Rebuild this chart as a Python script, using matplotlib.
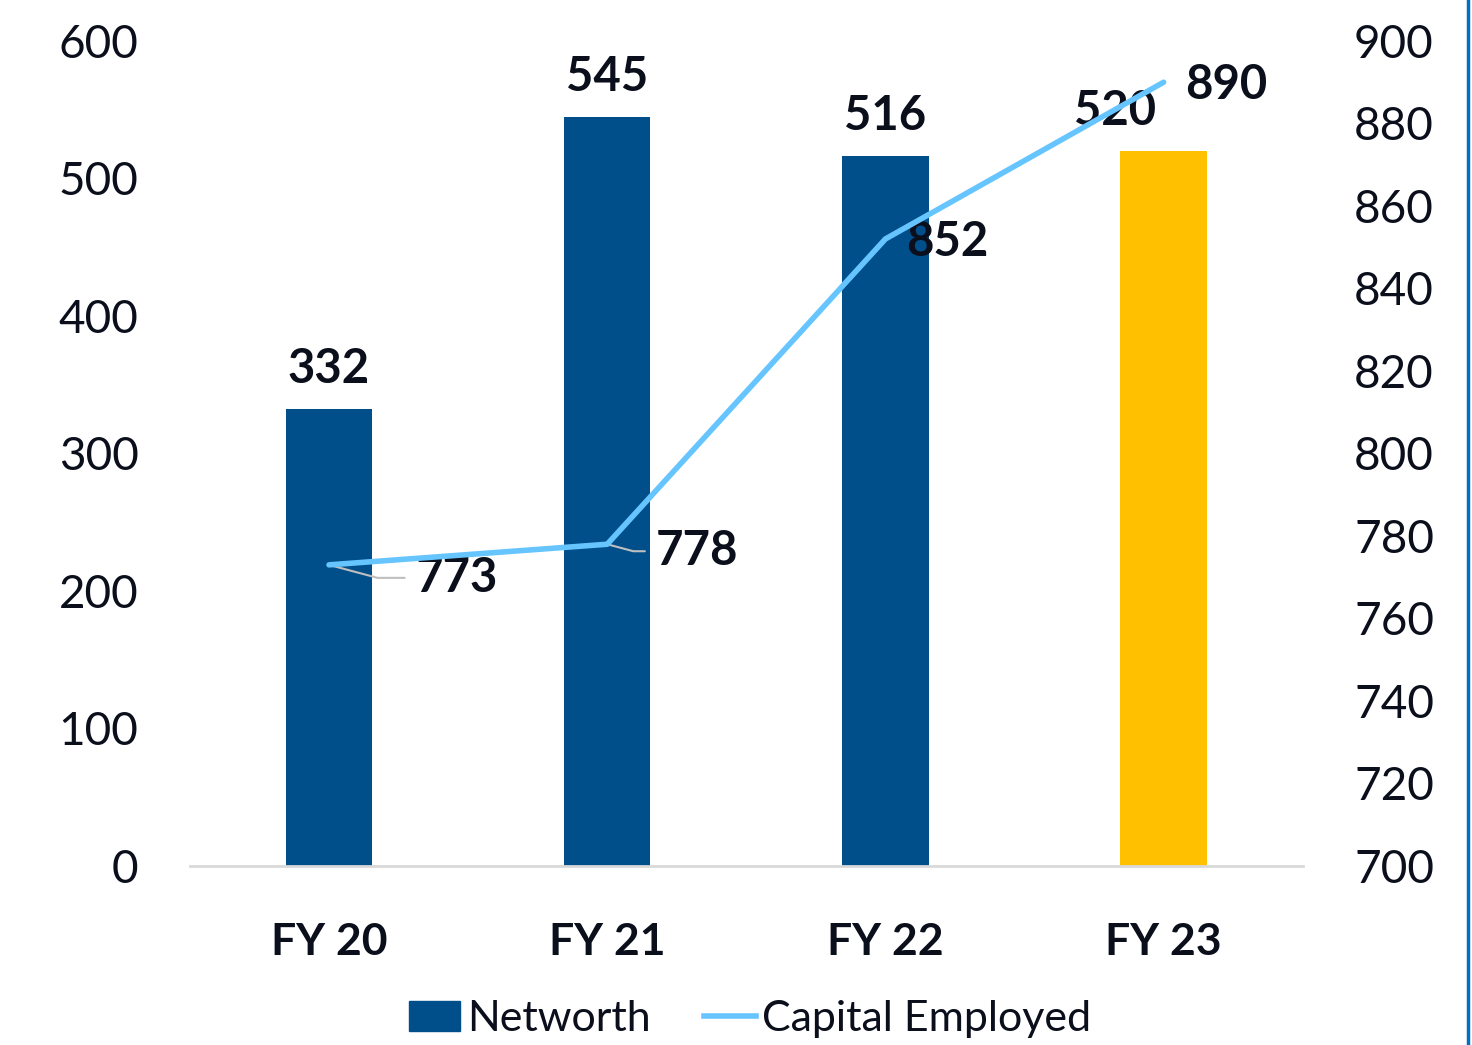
import matplotlib.pyplot as plt
from matplotlib.lines import Line2D
import numpy as np

# Chart data
years = ['FY 20', 'FY 21', 'FY 22', 'FY 23']
networth = [332, 545, 516, 520]
capital_employed = [773, 778, 852, 890]

# Colours
bar_colors = ['#004F8B', '#004F8B', '#004F8B', '#FFC000']
line_color = '#66C5FF'
text_color = '#0B0F1C'

plt.rcParams['font.family'] = ['Lato', 'DejaVu Sans']

fig = plt.figure(figsize=(14.72, 10.45), dpi=100)
ax = fig.add_axes([0.129, 0.1713, 0.756, 0.7895])
ax2 = ax.twinx()

x = np.arange(len(years))
ax.bar(x, networth, width=0.31, color=bar_colors, zorder=2)
ax2.plot(x, capital_employed, color=line_color, lw=4, solid_capstyle='round', zorder=5)

ax.set_xlim(-0.5, 3.5)
ax.set_ylim(0, 600)
ax2.set_ylim(700, 900)
ax.set_yticks(range(0, 601, 100))
ax2.set_yticks(range(700, 901, 20))

for a in (ax, ax2):
    for s in a.spines.values():
        s.set_visible(False)
    a.tick_params(length=0, labelsize=33, colors=text_color)
ax.spines['bottom'].set_visible(True)
ax.spines['bottom'].set_color('#D9D9D9')
ax.spines['bottom'].set_linewidth(2)
ax.tick_params(axis='y', pad=37)
ax2.tick_params(axis='y', pad=37)

ax.set_xticks(x)
ax.set_xticklabels(years, fontweight='bold', fontsize=32)
ax.tick_params(axis='x', pad=40)

# Bar labels
for xi, v in zip(x, networth):
    dx = -49 if xi == 3 else 0
    ax.annotate(str(v), (xi, v), xytext=(dx, 18), textcoords='offset pixels',
                ha='center', va='bottom', fontsize=34, fontweight='bold', color=text_color)

# Line labels (offsets in pixels from the point)
offsets = [(128, -13), (90, -7), (62, -3), (63, -3)]
for i, (xi, v) in enumerate(zip(x, capital_employed)):
    dx, dy = offsets[i]
    if i < 2:
        arrow = dict(arrowstyle='-', color='#BFBFBF', lw=1.5, shrinkA=6, shrinkB=0,
                     connectionstyle='angle,angleA=0,angleB=-15,rad=0')
    else:
        arrow = None
    ax2.annotate(str(v), (xi, v), xytext=(dx, dy), textcoords='offset pixels',
                 ha='center', va='center', fontsize=34, fontweight='bold', color=text_color,
                 arrowprops=arrow, zorder=4)

# Legend
handles = [plt.Rectangle((0, 0), 1, 1, color='#004F8B'),
           Line2D([0], [0], color=line_color, lw=4)]
fig.legend(handles, ['Networth', 'Capital Employed'], loc='center', bbox_to_anchor=(0.5095, 0.025),
           ncol=2, frameon=False, fontsize=31, handlelength=1.2, handletextpad=0.15,
           columnspacing=1.25, labelcolor=text_color)

# Blue border on the right edge
fig.add_artist(Line2D([0.9975, 0.9975], [0, 1], color='#0070C0', lw=2.5))

fig.savefig('out.png', dpi=100)
